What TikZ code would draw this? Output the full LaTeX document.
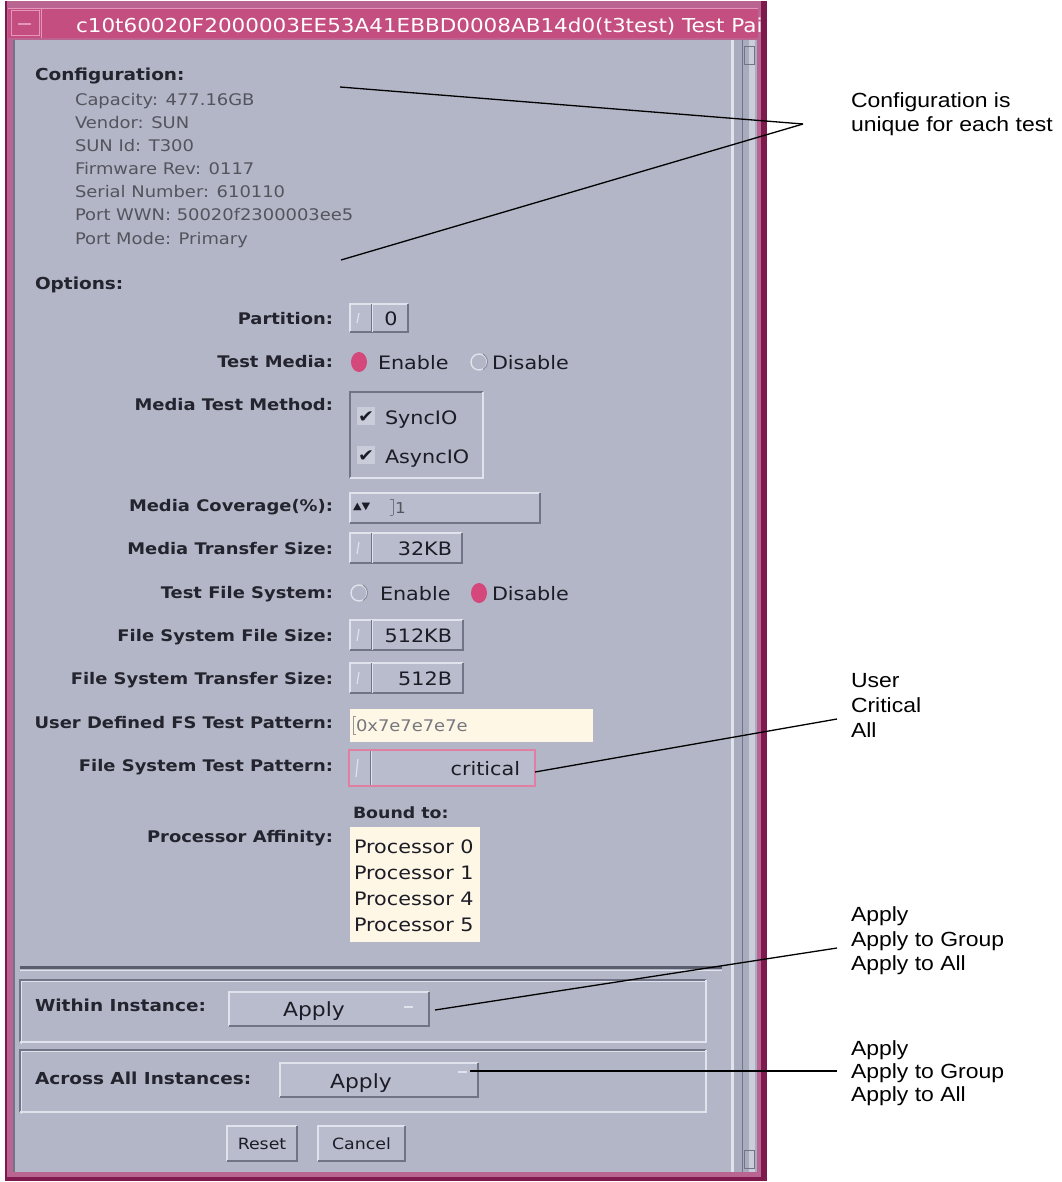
\documentclass[tikz,border=0pt]{standalone}
\usepackage{fontspec}
\setmainfont[FakeStretch=1.12]{DejaVu Sans}
\newfontfamily\annfont[FakeStretch=1.12]{Liberation Sans}
\newcommand\fsz[1]{\fontsize{#1}{#1}\selectfont}
\definecolor{bodybg}{RGB}{178,182,198}
\definecolor{btnbg}{RGB}{184,188,204}
\definecolor{hicol}{RGB}{224,227,236}
\definecolor{locol}{RGB}{112,116,134}
\definecolor{titlebg}{RGB}{196,78,128}
\definecolor{titlehi}{RGB}{228,150,188}
\definecolor{framemid}{RGB}{186,100,145}
\definecolor{framedark}{RGB}{126,26,78}
\definecolor{cream}{RGB}{254,247,230}
\definecolor{radiopink}{RGB}{212,72,124}
\definecolor{labelc}{RGB}{36,36,46}
\definecolor{cfgc}{RGB}{84,84,94}
\definecolor{wtext}{RGB}{28,28,38}
\definecolor{sbmid}{RGB}{168,172,190}
\tikzset{
  every node/.style={inner sep=0pt, outer sep=0pt},
  lbl/.style={anchor=base east, font=\fsz{16}\bfseries, text=labelc},
  head/.style={anchor=base west, font=\fsz{16.5}\bfseries, text=labelc},
  cfg/.style={anchor=base west, font=\fsz{16}, text=cfgc},
  wtxt/.style={font=\fsz{18.5}, text=wtext},
  wbox/.style 2 args={anchor=north west, fill=btnbg, minimum width=#1pt, minimum height=#2pt},
  hiline/.style={draw=hicol, line width=1.6pt},
  loline/.style={draw=locol, line width=1.6pt},
  ann/.style={anchor=base west, font=\annfont\fsz{20.5}, text=black},
  conn/.style={draw=black, line width=1.3pt},
}
\newcommand\raisedB[1]{%
  \draw[hiline] (#1.south west) -- (#1.north west) -- (#1.north east);
  \draw[loline] (#1.north east) -- (#1.south east) -- (#1.south west);}
\newcommand\sunkenB[1]{%
  \draw[loline] (#1.south west) -- (#1.north west) -- (#1.north east);
  \draw[hiline] (#1.north east) -- (#1.south east) -- (#1.south west);}
\newcommand\optdiv[1]{%
  \draw[locol, line width=1pt] ([xshift=21pt]#1.north west) -- ([xshift=21pt]#1.south west);
  \draw[hicol, line width=1pt] ([xshift=22.5pt]#1.north west) -- ([xshift=22.5pt]#1.south west);
  \draw[hicol, line width=1.2pt] ([xshift=9pt,yshift=-9pt]#1.north west) -- ([xshift=7pt,yshift=9pt]#1.south west);}
\begin{document}
\begin{tikzpicture}[x=1pt,y=-1pt]
\useasboundingbox (0,0) rectangle (1061,1182);
\fill[white] (0,0) rectangle (1061,1182);
% ---------- window frame ----------
\fill[framemid] (5,1) rectangle (767,1181);
\fill[framedark] (761,1) rectangle (767,1181);
\fill[framedark] (5,1177) rectangle (767,1181);
\fill[framedark] (5,1) rectangle (7,1181);
\fill[titlebg] (8,9) rectangle (758,38);
\draw[titlehi, line width=1pt] (8,9) -- (758,9);
\draw[titlehi, line width=1pt] (41,9) -- (41,38);
\draw[titlehi, line width=1pt] (11,11) rectangle (39,36);
\draw[titlehi, line width=2pt] (18,24) -- (31,24);
\node[anchor=base west, text=white, font=\fsz{19.2}] (title) at (76,33)
  {c10t60020F2000003EE53A41EBBD0008AB14d0(t3test) Test Pai};
% body
\fill[bodybg] (14,40) rectangle (757,1172);
\draw[locol, line width=1.5pt] (14,40) -- (14,1172);
% scrollbar
\fill[sbmid] (731,40) rectangle (757,1172);
\fill[hicol] (731,40) rectangle (734,1172);
\draw[locol, line width=1pt] (742,40) -- (742,1172);
\fill[hicol!60!sbmid] (749,40) rectangle (755,1172);
\draw[locol, line width=0.8pt] (744,46) rectangle (754,64);
\draw[locol, line width=0.8pt] (744,1150) rectangle (754,1168);
% ---------- configuration ----------
\node[head] (cfghead) at (35,81) {Configuration:};
\node[cfg] (c1) at (75,106) {Capacity: 477.16GB};
\node[cfg] (c2) at (75,129) {Vendor: SUN};
\node[cfg] (c3) at (75,152) {SUN Id: T300};
\node[cfg] (c4) at (75,175) {Firmware Rev: 0117};
\node[cfg] (c5) at (75,198) {Serial Number: 610110};
\node[cfg] (c6) at (75,221) {Port WWN: 50020f2300003ee5};
\node[cfg] (c7) at (75,244) {Port Mode: Primary};
\node[head] (opthead) at (35,289) {Options:};
% ---------- option labels ----------
\node[lbl] (lpart) at (333,324) {Partition:};
\node[lbl] (ltm) at (333,367) {Test Media:};
\node[lbl] (lmtm) at (333,410) {Media Test Method:};
\node[lbl] (lmc) at (333,511) {Media Coverage(\%):};
\node[lbl] (lmts) at (333,554) {Media Transfer Size:};
\node[lbl] (ltfs) at (333,598) {Test File System:};
\node[lbl] (lfsfs) at (333,641) {File System File Size:};
\node[lbl] (lfsts) at (333,684) {File System Transfer Size:};
\node[lbl] (lud) at (333,728) {User Defined FS Test Pattern:};
\node[lbl] (lfstp) at (333,771) {File System Test Pattern:};
\node[lbl] (lpa) at (333,842) {Processor Affinity:};
% ---------- widgets ----------
% Partition
\node[wbox={58}{28}] (part) at (350,304) {};
\raisedB{part} \optdiv{part}
\node[wtxt, anchor=base] (partv) at (391,325) {0};
% Test Media radios
\fill[radiopink] (359,362) ellipse [x radius=8pt, y radius=10pt];
\node[wtxt, anchor=base west] (tme) at (378,369) {Enable};
\draw[hicol, line width=1.4pt] (479,362) circle [radius=8pt];
\draw[locol!60!bodybg, line width=1pt] (483,354) arc [start angle=60, end angle=-60, radius=9pt];
\node[wtxt, anchor=base west] (tmd) at (492,369) {Disable};
% Media Test Method
\node[wbox={133}{86}, fill=bodybg] (mtm) at (350,392) {};
\sunkenB{mtm}
\fill[hicol!50!bodybg] (357,407) rectangle (375,425);
\fill[hicol!50!bodybg] (357,446) rectangle (375,464);
\node[wtxt, font=\fsz{17}, anchor=center] (ck1) at (366,417) {✔};
\node[wtxt, font=\fsz{17}, anchor=center] (ck2) at (366,456) {✔};
\node[wtxt, anchor=base west] (sync) at (385,424) {SyncIO};
\node[wtxt, anchor=base west] (async) at (385,463) {AsyncIO};
% Media Coverage
\node[wbox={190}{30}] (mcov) at (350,493) {};
\raisedB{mcov}
\node[wtxt, font=\fsz{10}, anchor=west] (arrows) at (353,507) {▲▼};
\draw[locol, line width=1pt] (393,499) -- (393,515);
\draw[locol, line width=1pt] (390,499) -- (393,499) (390,515) -- (393,515);
\node[wtxt, font=\fsz{15}, text=cfgc, anchor=base west] (mcv) at (395,513) {1};
% Media Transfer Size
\node[wbox={112}{30}] (mts) at (350,533) {};
\raisedB{mts} \optdiv{mts}
\node[wtxt, anchor=base east] (mtsv) at (452,555) {32KB};
% Test File System radios
\draw[hicol, line width=1.4pt] (359,593) circle [radius=8pt];
\draw[locol!60!bodybg, line width=1pt] (363,585) arc [start angle=60, end angle=-60, radius=9pt];
\node[wtxt, anchor=base west] (tfe) at (380,600) {Enable};
\fill[radiopink] (479,593) ellipse [x radius=8pt, y radius=10pt];
\node[wtxt, anchor=base west] (tfd) at (492,600) {Disable};
% FS File Size
\node[wbox={113}{30}] (fsfs) at (350,620) {};
\raisedB{fsfs} \optdiv{fsfs}
\node[wtxt, anchor=base east] (fsfsv) at (452,642) {512KB};
% FS Transfer Size
\node[wbox={113}{30}] (fsts) at (350,663) {};
\raisedB{fsts} \optdiv{fsts}
\node[wtxt, anchor=base east] (fstsv) at (452,685) {512B};
% User defined pattern
\node[wbox={243}{33}, fill=cream] (ud) at (350,709) {};
\draw[cfgc!60!cream, line width=1pt] (353,716) -- (353,734) (353,716) -- (356,716) (353,734) -- (356,734);
\node[wtxt, font=\fsz{16}, text=cfgc!80!white, anchor=base west] (udv) at (356,731) {0x7e7e7e7e};
% FS Test Pattern
\node[wbox={186}{36}] (crit) at (349,750) {};
\raisedB{crit} \optdiv{crit}
\draw[radiopink!70!white, line width=2.2pt] (crit.north west) rectangle (crit.south east);
\node[wtxt, anchor=base east] (critv) at (520,775) {critical};
% Processor affinity
\node[anchor=base west, font=\fsz{15.5}\bfseries, text=labelc] (bound) at (353,818) {Bound to:};
\node[wbox={130}{115}, fill=cream] (plist) at (350,827) {};
\node[wtxt, anchor=base west] (p0) at (354,853) {Processor 0};
\node[wtxt, anchor=base west] (p1) at (354,879) {Processor 1};
\node[wtxt, anchor=base west] (p4) at (354,905) {Processor 4};
\node[wtxt, anchor=base west] (p5) at (354,931) {Processor 5};
% ---------- separator and panels ----------
\draw[locol!80!black, line width=3pt] (20,967) -- (722,967);
\draw[hicol, line width=1pt] (20,970) -- (722,970);
\node[wbox={686}{62}, fill=bodybg] (pwithin) at (20,980) {};
\draw[locol, line width=1.2pt] (pwithin.south west) -- (pwithin.north west) -- (pwithin.north east);
\draw[hicol, line width=1.6pt] (pwithin.north east) -- (pwithin.south east) -- (pwithin.south west);
\draw[hicol, line width=1pt] ([shift={(1.5pt,-1.5pt)}]pwithin.south west) -- ([shift={(1.5pt,-1.5pt)}]pwithin.north west) -- ([shift={(-1.5pt,-1.5pt)}]pwithin.north east);
\node[anchor=base west, font=\fsz{16.5}\bfseries, text=labelc] (lwithin) at (35,1011) {Within Instance:};
\node[wbox={200}{34}] (wbtn) at (229,992) {};
\raisedB{wbtn}
\node[wtxt, font=\fsz{19.5}, anchor=base] (wapply) at (314,1016) {Apply};
\draw[hicol, line width=2pt] (404,1007) -- (413,1007);
\coordinate (wdash) at (435,1010);
\node[wbox={686}{62}, fill=bodybg] (pacross) at (20,1050) {};
\draw[locol, line width=1.2pt] (pacross.south west) -- (pacross.north west) -- (pacross.north east);
\draw[hicol, line width=1.6pt] (pacross.north east) -- (pacross.south east) -- (pacross.south west);
\draw[hicol, line width=1pt] ([shift={(1.5pt,-1.5pt)}]pacross.south west) -- ([shift={(1.5pt,-1.5pt)}]pacross.north west) -- ([shift={(-1.5pt,-1.5pt)}]pacross.north east);
\node[anchor=base west, font=\fsz{16.5}\bfseries, text=labelc] (lacross) at (35,1084) {Across All Instances:};
\node[wbox={198}{34}] (abtn) at (280,1063) {};
\raisedB{abtn}
\node[wtxt, font=\fsz{19.5}, anchor=base] (aapply) at (361,1088) {Apply};
\draw[hicol, line width=2pt] (458,1072) -- (467,1072);
\coordinate (adash) at (470,1071);
% Reset / Cancel
\node[wbox={70}{35}] (reset) at (227,1126) {};
\raisedB{reset}
\node[wtxt, font=\fsz{15.5}, anchor=center] (resett) at (reset.center) {Reset};
\node[wbox={87}{35}] (cancel) at (318,1126) {};
\raisedB{cancel}
\node[wtxt, font=\fsz{15.5}, anchor=center] (cancelt) at (cancel.center) {Cancel};
% ---------- annotations ----------
\node[ann] (a1a) at (851,108) {Configuration is};
\node[ann] (a1b) at (851,131.5) {unique for each test};
\node[ann] (a2a) at (851,687) {User};
\node[ann] (a2b) at (851,712) {Critical};
\node[ann] (a2c) at (851,737) {All};
\node[ann] (a3a) at (851,921.7) {Apply};
\node[ann] (a3b) at (851,946) {Apply to Group};
\node[ann] (a3c) at (851,970) {Apply to All};
\node[ann] (a4a) at (851,1055) {Apply};
\node[ann] (a4b) at (851,1078) {Apply to Group};
\node[ann] (a4c) at (851,1101.7) {Apply to All};
\coordinate (cfgP1) at (340,87);
\coordinate (cfgP2) at (341,260);
\coordinate (cfgJ) at (803,124);
\coordinate (critE) at (837,719);
\coordinate (ap1E) at (837,948);
\coordinate (ap2E) at (837,1071);
\draw[conn] (cfgP1) -- (cfgJ);
\draw[conn] (cfgP2) -- (cfgJ);
\draw[conn] ([yshift=-4pt]crit.east) -- (critE);
\draw[conn] (wdash) -- (ap1E);
\draw[conn] (adash) -- (ap2E);
\end{tikzpicture}
\end{document}
